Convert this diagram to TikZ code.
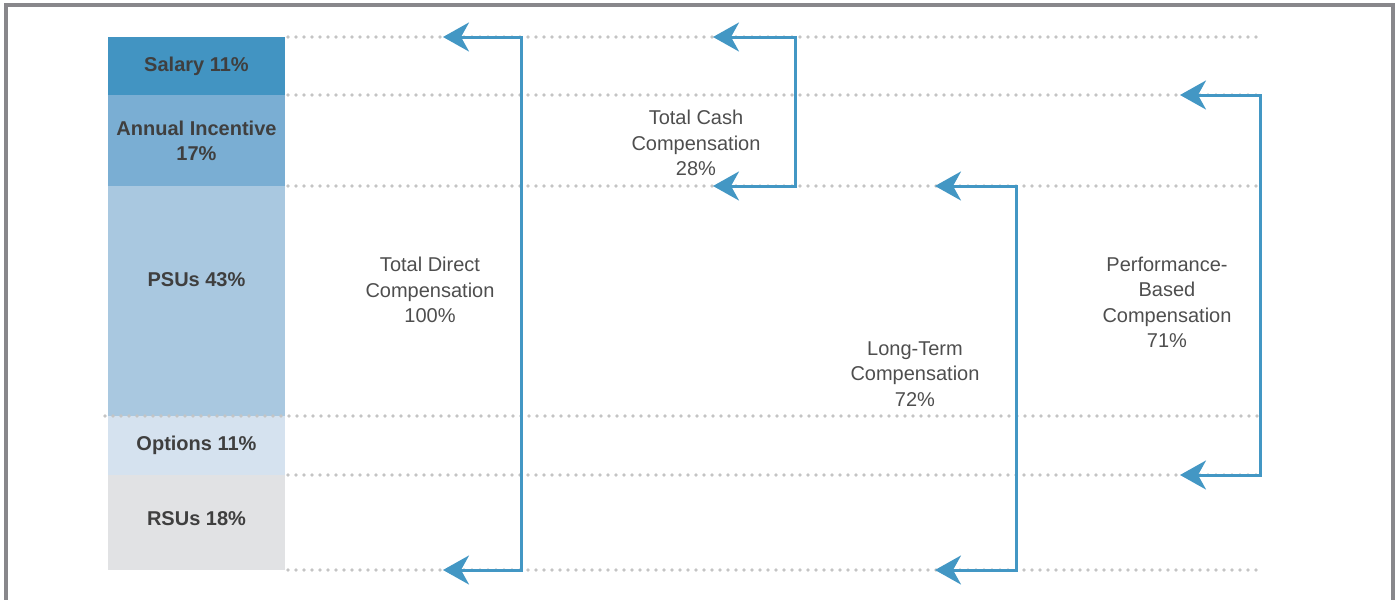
\documentclass[tikz,border=0pt]{standalone}
\usepackage{fontspec}
\setmainfont{Liberation Sans}
\usetikzlibrary{arrows.meta,positioning}
\definecolor{salaryblue}{HTML}{4294C2}
\definecolor{incentblue}{HTML}{7AAED3}
\definecolor{psublue}{HTML}{A9C8E0}
\definecolor{optblue}{HTML}{D5E2EF}
\definecolor{rsugray}{HTML}{E1E2E4}
\definecolor{arrowblue}{HTML}{4397C4}
\definecolor{dotgray}{HTML}{C4C4C4}
\definecolor{framegray}{HTML}{88878B}
\definecolor{textgray}{HTML}{3F3F3F}
\definecolor{lightgray}{HTML}{4E4E4E}

\begin{document}
\begin{tikzpicture}[x=0.5pt, y=-0.5pt,
  seg/.style={minimum width=88.5pt, inner sep=0pt, outer sep=0pt, align=center,
              text=textgray, font=\fontsize{10}{12.5}\selectfont\bfseries},
  lbl/.style={align=center, text=lightgray, font=\fontsize{10}{12.75}\selectfont},
  dotline/.style={dotgray, line width=1.8pt, line cap=round, dash pattern=on 0pt off 4pt},
  arr/.style={{Stealth[length=13pt, width=14.5pt, inset=4pt]}-{Stealth[length=13pt, width=14.5pt, inset=4pt]},
              line width=1.5pt, arrowblue}
]
  \clip (0,0) rectangle (1399,600);
  \useasboundingbox (0,0) rectangle (1399,600);
  \draw[framegray, line width=2.2pt] (6,640) |- (1393,5) -- (1393,640);

  % stacked bar
  \node[seg, fill=salaryblue, minimum height=29pt] (salary) at (196.5,66) {Salary 11\%};
  \node[seg, fill=incentblue, minimum height=45.5pt, below=0pt of salary] (incentive) {Annual Incentive\\17\%};
  \node[seg, fill=psublue, minimum height=115pt, below=0pt of incentive] (psus) {\raisebox{21pt}{PSUs 43\%}};
  \node[seg, fill=optblue, minimum height=29.5pt, below=0pt of psus] (options) {Options 11\%};
  \node[seg, fill=rsugray, minimum height=47.5pt, below=0pt of options] (rsus) {\raisebox{4pt}{RSUs 18\%}};

  % guide lines
  \foreach \y in {37,95,186,475,570}
    \draw[dotline] (288,\y) -- (1262,\y);
  \draw[dotline] (105,416) -- (1262,416);

  % brackets
  \coordinate (tdtop) at (443,37);
  \coordinate (tdbot) at (443,570);
  \coordinate (tctop) at (713,37);
  \coordinate (tcbot) at (713,186);
  \coordinate (lttop) at (935,186);
  \coordinate (ltbot) at (935,570);
  \coordinate (pbtop) at (1180,95);
  \coordinate (pbbot) at (1180,475);
  \draw[arr] (tdtop) -- ++(78,0) |- (tdbot);
  \draw[arr] (tctop) -- ++(82,0) |- (tcbot);
  \draw[arr] (lttop) -- ++(81,0) |- (ltbot);
  \draw[arr] (pbtop) -- ++(80,0) |- (pbbot);

  \node[lbl] (direct) at (430,290) {Total Direct\\Compensation\\100\%};
  \node[lbl] (cash) at (696,143) {Total Cash\\Compensation\\28\%};
  \node[lbl] (longterm) at (915,374) {Long-Term\\Compensation\\72\%};
  \node[lbl] (perf) at (1167,302.5) {Performance-\\Based\\Compensation\\71\%};
\end{tikzpicture}
\end{document}
